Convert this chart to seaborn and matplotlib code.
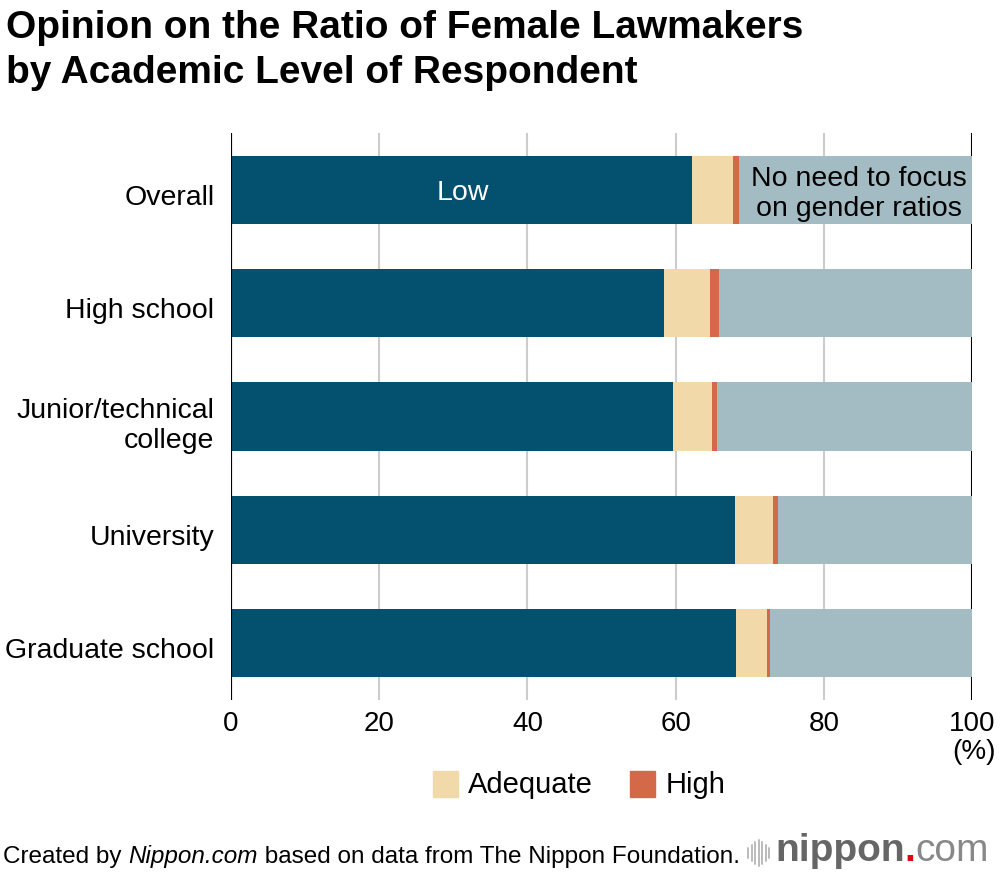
import matplotlib
matplotlib.use("Agg")
import matplotlib.pyplot as plt
import matplotlib.transforms as mtransforms
import pandas as pd
import numpy as np
import seaborn as sns

# Data (%)
groups = ["Overall", "High school", "Junior/technical\ncollege", "University", "Graduate school"]
low = [62.2, 58.4, 59.7, 68.0, 68.2]
adequate = [5.5, 6.2, 5.2, 5.2, 4.1]
high = [0.9, 1.2, 0.7, 0.6, 0.4]
no_need = [31.4, 34.2, 34.4, 26.2, 27.3]

colors = {
    "Low": "#03506f",
    "Adequate": "#f2d9aa",
    "High": "#d4694a",
    "No need": "#a3bbc2",
}

sns.set_style("white")
plt.rcParams["font.family"] = ["Liberation Sans", "DejaVu Sans"]
plt.rcParams["text.color"] = "black"
plt.rcParams["xtick.color"] = "black"
plt.rcParams["ytick.color"] = "black"

df = pd.DataFrame({"group": groups, "Low": low, "Adequate": adequate,
                   "High": high, "No need": no_need})
# cumulative totals, drawn back to front
df["c_low"] = df["Low"]
df["c_adequate"] = df["c_low"] + df["Adequate"]
df["c_high"] = df["c_adequate"] + df["High"]
df["c_all"] = df["c_high"] + df["No need"]

fig = plt.figure(figsize=(10, 8.76), dpi=100)
ax = fig.add_axes([0.231, 0.2009, 0.741, 0.6473])

# grid lines behind bars
for v in [20, 40, 60, 80]:
    ax.axvline(v, color="#cccccc", lw=1.5, zorder=0)
for v in [0, 100]:
    ax.axvline(v, color="black", lw=1.5, zorder=0)

for col, key in [("c_all", "No need"), ("c_high", "High"),
                 ("c_adequate", "Adequate"), ("c_low", "Low")]:
    sns.barplot(data=df, x=col, y="group", color=colors[key], orient="h",
                width=0.6, linewidth=0, saturation=1, ax=ax, zorder=2)

ax.axvline(0, color="black", lw=1.5, zorder=3)

ax.set_xlim(0, 100)
ax.set_ylim(4.5, -0.5)
ax.set_xticks([0, 20, 40, 60, 80, 100])
ax.set_xticklabels(["0", "20", "40", "60", "80", "100"])
ax.tick_params(axis="x", labelsize=20, length=0, pad=8)
ax.tick_params(axis="y", labelsize=20.5, length=0, pad=12)
shift = mtransforms.ScaledTranslation(0, -5 / 100, fig.dpi_scale_trans)
for lab in ax.get_yticklabels():
    lab.set_horizontalalignment("right")
    lab.set_multialignment("right")
    lab.set_linespacing(1.2)
    lab.set_transform(lab.get_transform() + shift)
ax.set_xlabel("")
ax.set_ylabel("")
for s in ax.spines.values():
    s.set_visible(False)

# in-bar annotations
ax.text(31.3, 0.03, "Low", color="white", fontsize=20.5, ha="center", va="center", zorder=5)
ax.text(84.8, 0.04, "No need to focus\non gender ratios", color="black", fontsize=20.5,
        ha="center", va="center", linespacing=1.2, zorder=5)

fig.text(0.974, 1 - 752 / 876, "(%)", fontsize=20, ha="center", va="center")

# legend
fig.patches.append(plt.Rectangle((433 / 1000, 1 - 797 / 876), 25 / 1000, 26 / 876,
                                 color=colors["Adequate"], transform=fig.transFigure))
fig.text(468 / 1000, 1 - 785 / 876, "Adequate", fontsize=21, va="center")
fig.patches.append(plt.Rectangle((630 / 1000, 1 - 797 / 876), 25 / 1000, 26 / 876,
                                 color=colors["High"], transform=fig.transFigure))
fig.text(666 / 1000, 1 - 785 / 876, "High", fontsize=21, va="center")

# title
fig.text(0.006, 1 - 28 / 876, "Opinion on the Ratio of Female Lawmakers",
         fontsize=28, fontweight="bold", va="center")
fig.text(0.006, 1 - 73 / 876, "by Academic Level of Respondent",
         fontsize=28, fontweight="bold", va="center")

# footer
fs = 17.5
t1 = fig.text(0.003, 1 - 857 / 876, "Created by ", fontsize=fs, va="center")
fig.canvas.draw()
r = fig.canvas.get_renderer()
def after(t):
    bb = t.get_window_extent(renderer=r)
    return bb.x1 / fig.bbox.width
t2 = fig.text(after(t1), 1 - 857 / 876, "Nippon.com", fontsize=fs, style="italic", va="center")
fig.canvas.draw()
fig.text(after(t2), 1 - 857 / 876, " based on data from The Nippon Foundation.",
         fontsize=fs, va="center")

# logo
for i, h in enumerate([10, 16, 22, 26, 22, 16, 10]):
    fig.lines.append(plt.Line2D([(748 + i * 3.5) / 1000] * 2,
                                [1 - (853 + h / 2) / 876, 1 - (853 - h / 2) / 876],
                                color="#bbbbbb", lw=1.4, transform=fig.transFigure))
l1 = fig.text(0.775, 1 - 851 / 876, "nippon", fontsize=28, color="#666666", va="center",
              fontweight="bold")
fig.canvas.draw()
l2 = fig.text(after(l1), 1 - 851 / 876, ".", fontsize=28, color="#e60012", va="center",
              fontweight="bold")
fig.canvas.draw()
fig.text(after(l2), 1 - 851 / 876, "com", fontsize=28, color="#888888", va="center")

fig.savefig("out.png", dpi=100)
